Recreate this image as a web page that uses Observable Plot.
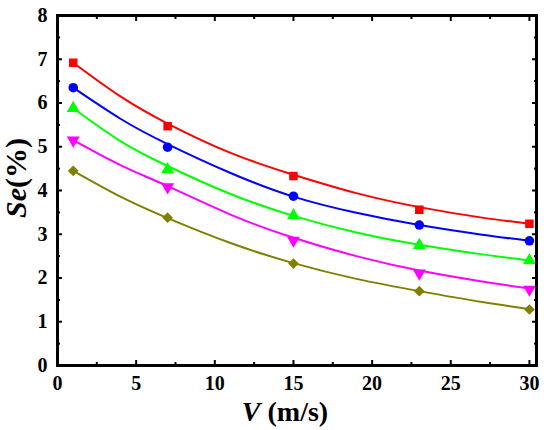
<!DOCTYPE html>
<html>
<head>
<meta charset="utf-8">
<script src="https://cdn.jsdelivr.net/npm/d3@7"></script>
<script src="https://cdn.jsdelivr.net/npm/@observablehq/plot@0.6"></script>
<style>
  body { margin: 0; background: #fff; }
</style>
</head>
<body>
<div id="vis"></div>
<script>
// measured points
const speeds = [1, 7, 15, 23, 30]
const seriesNames = ['s1', 's2', 's3', 's4', 's5']
const seSquare = [6.92, 5.47, 4.33, 3.56, 3.24]
const seCircle = [6.35, 4.99, 3.87, 3.21, 2.85]
const seUp = [5.88, 4.48, 3.43, 2.75, 2.40]
const seDown = [5.15, 4.08, 2.86, 2.11, 1.74]
const seDiamond = [4.45, 3.38, 2.33, 1.70, 1.28]

// fitted curves
const fitSpeeds = [1, 4, 7, 11, 15, 19, 23, 27, 30]
const fitSquare = [6.92, 6.15, 5.53, 4.86, 4.36, 3.94, 3.62, 3.38, 3.24]
const fitCircle = [6.35, 5.64, 5.06, 4.40, 3.86, 3.49, 3.21, 2.99, 2.85]
const fitUp = [5.88, 5.13, 4.56, 3.92, 3.42, 3.04, 2.76, 2.54, 2.40]
const fitDown = [5.15, 4.58, 4.10, 3.45, 2.92, 2.50, 2.17, 1.92, 1.76]
const fitDiamond = [4.45, 3.86, 3.37, 2.80, 2.34, 1.98, 1.70, 1.45, 1.29]

const xTicks = [0, 5, 10, 15, 20, 25, 30]
const xMinor = [2.5, 7.5, 12.5, 17.5, 22.5, 27.5]
const yTicks = [0, 1, 2, 3, 4, 5, 6, 7, 8]
const yMinor = [0.5, 1.5, 2.5, 3.5, 4.5, 5.5, 6.5, 7.5]

const colors = ['#ff0000', '#0000ff', '#00ff00', '#ff00ff', '#808000']
const serif = '"Liberation Serif", "Times New Roman", serif'

const triangleDown = {
  draw(ctx, size) {
    const a = Math.sqrt(size * 4 / Math.sqrt(3))
    const h = a * Math.sqrt(3) / 2
    ctx.moveTo(-a / 2, -h / 3)
    ctx.lineTo(a / 2, -h / 3)
    ctx.lineTo(0, 2 * h / 3)
    ctx.closePath()
  }
}

const seLists = [seSquare, seCircle, seUp, seDown, seDiamond]
const fitLists = [fitSquare, fitCircle, fitUp, fitDown, fitDiamond]
const points = seriesNames.flatMap((s, i) => speeds.map((v, j) => ({v, se: seLists[i][j], s})))
const fits = seriesNames.flatMap((s, i) => fitSpeeds.map((v, j) => ({v, se: fitLists[i][j], s})))

let chart = Plot.plot({
  width: 546,
  height: 430,
  marginLeft: 57,
  marginRight: 10,
  marginTop: 15,
  marginBottom: 65,
  x: {domain: [0, 30.45], axis: null},
  y: {domain: [0, 8], axis: null},
  color: {domain: seriesNames, range: colors},
  symbol: {domain: seriesNames, range: ['square', 'circle', 'triangle', triangleDown, 'diamond2']},
  style: {
    fontFamily: serif,
    fontWeight: 'bold',
    fontSize: '20px',
    color: '#000',
    background: '#fff',
  },
  marks: [
    Plot.line(fits, {x: 'v', y: 'se', stroke: 's', z: 's', curve: 'natural', strokeWidth: 2}),
    Plot.dot(points, {x: 'v', y: 'se', fill: 's', symbol: 's', r: 4.8}),
    // ticks pointing in, on all four sides
    Plot.axisX({anchor: 'bottom', ticks: xTicks, tickSize: -5, strokeWidth: 2, text: null, label: null}),
    Plot.axisX({anchor: 'bottom', ticks: xMinor, tickSize: -3, strokeWidth: 2, text: null, label: null}),
    Plot.axisX({anchor: 'top', ticks: xTicks, tickSize: -5, strokeWidth: 2, text: null, label: null}),
    Plot.axisX({anchor: 'top', ticks: xMinor, tickSize: -3, strokeWidth: 2, text: null, label: null}),
    Plot.axisY({anchor: 'left', ticks: yTicks, tickSize: -5, strokeWidth: 2, text: null, label: null}),
    Plot.axisY({anchor: 'left', ticks: yMinor, tickSize: -3, strokeWidth: 2, text: null, label: null}),
    Plot.axisY({anchor: 'right', ticks: yTicks, tickSize: -5, strokeWidth: 2, text: null, label: null}),
    Plot.axisY({anchor: 'right', ticks: yMinor, tickSize: -3, strokeWidth: 2, text: null, label: null}),
    Plot.axisX({anchor: 'bottom', ticks: xTicks, tickSize: 0, tickPadding: 10, label: null, fontSize: 20}),
    Plot.axisY({anchor: 'left', ticks: yTicks, tickSize: 0, tickPadding: 10, label: null, fontSize: 20}),
    Plot.frame({stroke: '#000', strokeWidth: 3}),
  ],
})

const svg = d3.select(chart)
const xt = svg.append('text')
  .attr('x', 285).attr('y', 421)
  .attr('text-anchor', 'middle')
  .attr('font-size', 28)
xt.append('tspan').attr('font-style', 'italic').text('V')
xt.append('tspan').text(' (m/s)')

const yt = svg.append('text')
  .attr('transform', 'translate(26,178) rotate(-90)')
  .attr('text-anchor', 'middle')
  .attr('font-size', 30)
yt.append('tspan').attr('font-style', 'italic').text('Se')
yt.append('tspan').text('(%)')

d3.select('#vis').append(() => chart)
</script>
</body>
</html>
